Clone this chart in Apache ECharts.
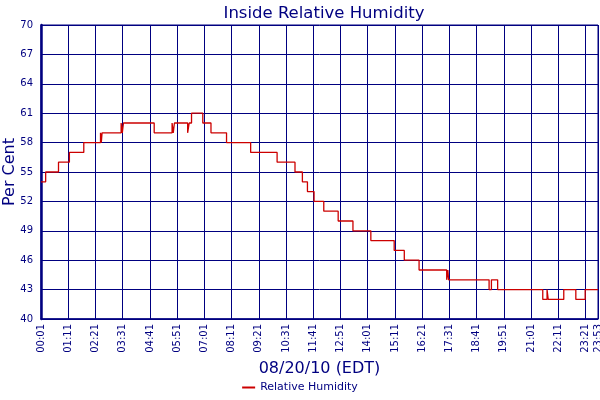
<!DOCTYPE html>
<html>
<head>
<meta charset="utf-8">
<script src="https://cdn.jsdelivr.net/npm/echarts@6/dist/echarts.min.js"></script>
<style>
html,body{margin:0;padding:0;background:#fff;}
#c{width:600px;height:400px;}
</style>
</head>
<body>
<div id="c"></div>
<script>
// Change points: time the reading changed, and the new reading (%)
const changeTimes = ["00:01","00:13","00:46","01:14","01:51","02:34","02:36","02:38","03:27","03:30","03:33","04:52","05:38","05:41","05:44","06:18","06:22","06:28","06:57","07:18","07:58","09:00","10:08","10:54","11:13","11:26","11:43","12:08","12:45","13:23","14:09","15:09","15:35","16:13","17:24","17:27","17:29","19:13","19:19","19:35","21:31","21:42","21:45","22:25","22:56","23:20","23:53"];
const humidity = [54,55,56,57,58,59,58,59,60,59,60,59,60,59,60,59,60,61,60,59,58,57,56,55,54,53,52,51,50,49,48,47,46,45,44,45,44,43,44,43,42,43,42,43,42,43,43];
const startTime = "00:01";
const endTime = "23:53";
const yMin = 40, yMax = 70, yStep = 3;
const xStepMinutes = 70;

function toMin(s){const p=s.split(':');return (+p[0])*60+(+p[1]);}
const t0 = toMin(startTime);
const seriesData = changeTimes.map((t,i)=>[toMin(t)-t0, humidity[i]]);
function fmt(m){
  const tot = Math.round(m)+t0;
  const h = Math.floor(tot/60)%24, mm = tot%60;
  return String(h).padStart(2,'0')+':'+String(mm).padStart(2,'0');
}

const navy = '#000080';
const chart = echarts.init(document.getElementById('c'), null, {renderer:'canvas'});
chart.setOption({
  animation:false,
  backgroundColor:'#fff',
  textStyle:{fontFamily:'DejaVu Sans'},
  title:{
    text:'Inside Relative Humidity',
    left:319, top:0, textAlign:'center',
    textStyle:{color:navy, fontSize:16.5, fontWeight:'normal', fontFamily:'DejaVu Sans'}
  },
  legend:{
    bottom:2, left:'center',
    icon:'rect', itemWidth:13, itemHeight:2, itemGap:5,
    textStyle:{color:navy, fontSize:11, fontFamily:'DejaVu Sans'},
    data:['Relative Humidity']
  },
  grid:{left:41, right:2, top:25, bottom:81, containLabel:false, outerBoundsMode:'none',
        show:true, borderColor:navy, borderWidth:1},
  xAxis:{
    type:'value', min:0, max:toMin(endTime)-t0, interval:xStepMinutes,
    name:'08/20/10 (EDT)', nameLocation:'middle', nameGap:40,
    nameTextStyle:{color:navy, fontSize:16, fontFamily:'DejaVu Sans'},
    axisLine:{show:true, lineStyle:{color:navy, width:1.5}},
    axisTick:{show:false},
    axisLabel:{rotate:90, color:navy, fontSize:10, margin:5, formatter:fmt, showMinLabel:true, showMaxLabel:true},
    splitLine:{show:true, lineStyle:{color:navy, width:1}}
  },
  yAxis:{
    type:'value', min:yMin, max:yMax, interval:yStep,
    name:'Per Cent', nameLocation:'middle', nameGap:23, nameMoveOverlap:false,
    nameTextStyle:{color:navy, fontSize:16, fontFamily:'DejaVu Sans'},
    axisLine:{show:true, lineStyle:{color:navy, width:2.5}},
    axisTick:{show:false},
    axisLabel:{color:navy, fontSize:10, margin:8},
    splitLine:{show:true, lineStyle:{color:navy, width:1}}
  },
  series:[{
    name:'Relative Humidity', type:'line', step:'end',
    data:seriesData, showSymbol:false, symbol:'none',
    lineStyle:{color:'#cc0000', width:1.3},
    itemStyle:{color:'#cc0000'}
  }]
});
</script>
</body>
</html>
